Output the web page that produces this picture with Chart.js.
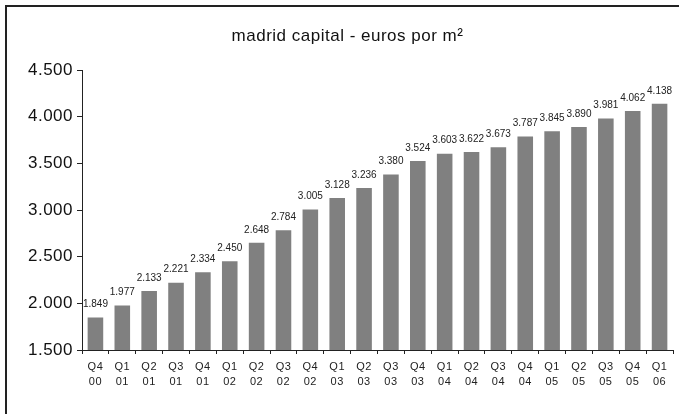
<!DOCTYPE html>
<html>
<head>
<meta charset="utf-8">
<script src="https://cdn.jsdelivr.net/npm/chart.js@4"></script>
<style>
  html, body { margin: 0; padding: 0; background: #fff; }
  #wrap { position: relative; width: 679px; height: 417px; }
  #frame { position: absolute; left: 5px; top: 5px; width: 680px; height: 407px;
           border-top: 2px solid #222; border-left: 2px solid #222; }
  canvas { position: absolute; left: 0; top: 0; }
</style>
</head>
<body>
<div id="wrap">
  <div id="frame"></div>
  <canvas id="chart" width="679" height="417"></canvas>
</div>
<script>
const quarters = ['Q4', 'Q1', 'Q2', 'Q3', 'Q4', 'Q1', 'Q2', 'Q3', 'Q4', 'Q1', 'Q2', 'Q3',
                  'Q4', 'Q1', 'Q2', 'Q3', 'Q4', 'Q1', 'Q2', 'Q3', 'Q4', 'Q1'];
const years = ['00', '01', '01', '01', '01', '02', '02', '02', '02', '03', '03', '03',
               '03', '04', '04', '04', '04', '05', '05', '05', '05', '06'];
const prices = [1849, 1977, 2133, 2221, 2334, 2450, 2648, 2784, 3005, 3128, 3236, 3380,
                3524, 3603, 3622, 3673, 3787, 3845, 3890, 3981, 4062, 4138];

const FONT = '"Liberation Sans", Arial, sans-serif';

// 1849 -> "1.849"
const fmt = v => String(v).replace(/\B(?=(\d{3})+(?!\d))/g, '.');

// reference text is slightly stretched
const spacing = {
  id: 'spacing',
  beforeDraw(chart) { chart.ctx.letterSpacing = '0.5px'; }
};

const valueLabels = {
  id: 'valueLabels',
  afterDatasetsDraw(chart) {
    const { ctx } = chart;
    const meta = chart.getDatasetMeta(0);
    ctx.save();
    ctx.letterSpacing = '0px';
    ctx.font = '10px ' + FONT;
    ctx.fillStyle = '#222';
    ctx.textAlign = 'center';
    ctx.textBaseline = 'bottom';
    meta.data.forEach((bar, i) => {
      ctx.fillText(fmt(prices[i]), bar.x, bar.y - 8);
    });
    ctx.restore();
  }
};

new Chart(document.getElementById('chart'), {
  type: 'bar',
  data: {
    labels: quarters.map((q, i) => [q, years[i]]),
    datasets: [{
      data: prices,
      backgroundColor: '#808080',
      borderWidth: 0,
      barPercentage: 0.58,
      categoryPercentage: 1
    }]
  },
  options: {
    responsive: false,
    animation: false,
    layout: { padding: { left: 22, right: 6, top: 0, bottom: 0 } },
    plugins: {
      legend: { display: false },
      tooltip: { enabled: false },
      title: {
        display: true,
        text: 'madrid capital - euros por m²',
        color: '#111',
        font: { family: FONT, size: 17, weight: 'normal' },
        padding: { top: 26, bottom: 23.6 }
      }
    },
    scales: {
      x: {
        afterFit: s => { s.height = 67; },
        border: { color: '#222', width: 1 },
        grid: { offset: true, drawOnChartArea: false, tickLength: 4, color: '#222' },
        ticks: {
          color: '#222',
          maxRotation: 0,
          autoSkip: false,
          padding: 5,
          font: { family: FONT, size: 11, lineHeight: 1.4 }
        }
      },
      y: {
        min: 1500,
        max: 4500,
        afterFit: s => { s.width = 60; },
        border: { color: '#222', width: 1 },
        grid: { drawOnChartArea: false, tickLength: 5, color: '#222' },
        ticks: {
          stepSize: 500,
          color: '#111',
          padding: 4,
          callback: v => fmt(v),
          font: { family: FONT, size: 17 }
        }
      }
    }
  },
  plugins: [spacing, valueLabels]
});
</script>
</body>
</html>
